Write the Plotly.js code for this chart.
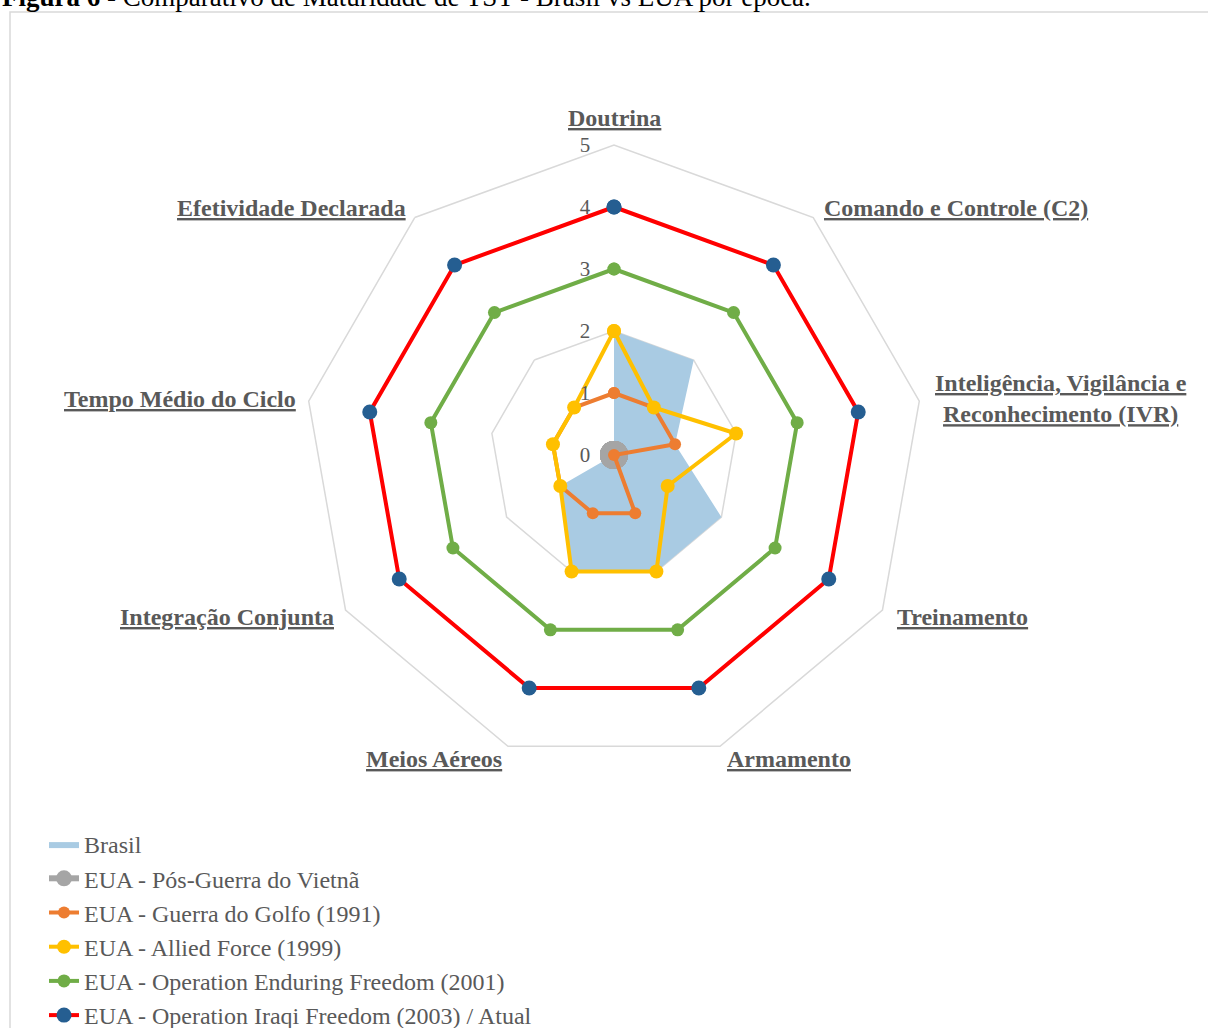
<!DOCTYPE html>
<html>
<head>
<meta charset="utf-8">
<script src="https://cdn.plot.ly/plotly-3.0.1.min.js"></script>
<style>html,body{margin:0;padding:0;background:#fff;overflow:hidden;}#chart{width:1208px;height:1038px;}</style>
</head>
<body>
<div id="chart"></div>
<script>
const categories = [
  "Doutrina",
  "Comando e Controle (C2)",
  "Inteligência, Vigilância e<br>Reconhecimento (IVR)",
  "Treinamento",
  "Armamento",
  "Meios Aéreos",
  "Integração Conjunta",
  "Tempo Médio do Ciclo",
  "Efetividade Declarada"
];
const seriesNames = [
  "Brasil",
  "EUA - Pós-Guerra do Vietnã",
  "EUA - Guerra do Golfo (1991)",
  "EUA - Allied Force (1999)",
  "EUA - Operation Enduring Freedom (2001)",
  "EUA - Operation Iraqi Freedom (2003) / Atual"
];
const brasil   = [2, 2, 1, 2, 2, 2, 1, 0, 0];
const vietna   = [0, 0, 0, 0, 0, 0, 0, 0, 0];
const golfo    = [1, 1, 1, 0, 1, 1, 1, 1, 1];
const allied   = [2, 1, 2, 1, 2, 2, 1, 1, 1];
const enduring = [3, 3, 3, 3, 3, 3, 3, 3, 3];
const iraqi    = [4, 4, 4, 4, 4, 4, 4, 4, 4];
const radialTicks = [0, 1, 2, 3, 4, 5];
const titleText = "<b>Figura 6</b> - Comparativo de Maturidade de TST - Brasil vs EUA por época.";

const serif = "'Liberation Serif', 'Times New Roman', serif";
const txt = "#595959";

const closeArr = a => a.concat([a[0]]);
const cats = closeArr(categories);

function lineTrace(vals, name, lineColor, markerColor, msize, lw) {
  return {
    type: "scatterpolar", mode: "lines+markers", cliponaxis: true,
    r: closeArr(vals), theta: cats, name: name,
    line: {color: lineColor, width: lw},
    marker: {color: markerColor, size: msize},
    hoverinfo: "skip"
  };
}

const data = [
  {
    type: "scatterpolar", mode: "lines", cliponaxis: true, r: closeArr(brasil), theta: cats,
    name: seriesNames[0],
    fill: "toself", fillcolor: "#a9cbe3", line: {color: "rgba(0,0,0,0)", width: 0},
    hoverinfo: "skip"
  },
  lineTrace(vietna,   seriesNames[1], "#a5a5a5", "#a5a5a5", 28, 6),
  lineTrace(golfo,    seriesNames[2], "#ed7d31", "#ed7d31", 12, 4),
  lineTrace(allied,   seriesNames[3], "#ffc000", "#ffc000", 14, 4),
  lineTrace(enduring, seriesNames[4], "#70ad47", "#70ad47", 13, 4),
  lineTrace(iraqi,    seriesNames[5], "#ff0000", "#255e91", 15, 4)
];

// layout is a little taller than the 1028px window; the extra strip below is off-screen
const W = 1208, H = 1038;
const cx = 614, cy = 455, R = 310;

// category labels placed just outside each vertex of the outer polygon
const catAnnotations = categories.map((c, i) => {
  const a = i * 2 * Math.PI / categories.length;
  const s = Math.sin(a), co = Math.cos(a);
  const vx = cx + R * s, vy = cy - R * co;
  let x, y, xanchor;
  if (Math.abs(s) < 0.1) { x = vx; y = vy - 27; xanchor = "center"; }
  else { x = vx + (s > 0 ? 14 : 11) * s; y = vy - 13 * co; xanchor = s > 0 ? "left" : "right"; }
  return {
    xref: "paper", yref: "paper", x: x / W, y: 1 - y / H,
    xanchor: xanchor, yanchor: "middle", align: "center", showarrow: false,
    text: "<b><span style='text-decoration:underline'>" + c + "</span></b>",
    font: {family: serif, size: 24, color: txt}
  };
});

const layout = {
  width: W, height: H,
  margin: {l: 0, r: 0, t: 0, b: 0},
  paper_bgcolor: "#ffffff",
  font: {family: serif, color: txt, size: 20},
  showlegend: true,
  legend: {
    x: 44 / W, y: 0, xanchor: "left", yanchor: "bottom",
    font: {family: serif, size: 24, color: txt},
    tracegroupgap: 0, bgcolor: "rgba(0,0,0,0)"
  },
  polar: {
    domain: {x: [(cx - R) / W, (cx + R) / W], y: [1 - (cy + R) / H, 1 - (cy - R) / H]},
    bgcolor: "rgba(0,0,0,0)",
    gridshape: "linear",
    angularaxis: {
      direction: "clockwise", rotation: 90,
      showgrid: false, showline: true, linecolor: "#d9d9d9", linewidth: 1.5,
      ticks: "", showticklabels: false
    },
    radialaxis: {
      range: [0, 5], tickvals: radialTicks, angle: 90, tickangle: 90,
      showline: false, ticks: "outside", ticklen: 16, tickcolor: "rgba(0,0,0,0)",
      side: "counterclockwise",
      gridcolor: "#d9d9d9", gridwidth: 1.5,
      tickfont: {family: serif, size: 21, color: txt}
    }
  },
  shapes: [{
    type: "rect", xref: "paper", yref: "paper",
    x0: 10 / W, x1: 1.05, y0: -0.05, y1: 1 - 12 / H,
    line: {color: "#d9d9d9", width: 1.5}, fillcolor: "rgba(0,0,0,0)", layer: "below"
  }],
  annotations: [{
    xref: "paper", yref: "paper", x: 0, y: 1 + 3 / H,
    xanchor: "left", yanchor: "middle", showarrow: false,
    text: titleText, font: {family: serif, size: 27, color: "#000000"}
  }].concat(catAnnotations)
};

Plotly.newPlot("chart", data, layout, {displayModeBar: false, staticPlot: true});
</script>
</body>
</html>
